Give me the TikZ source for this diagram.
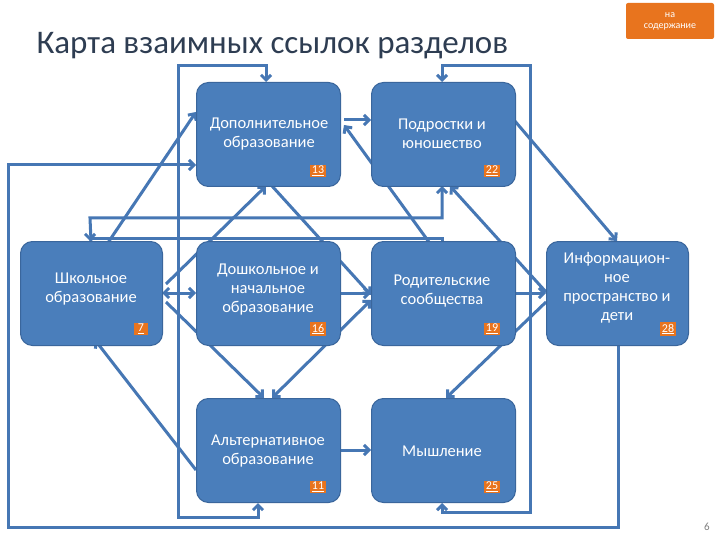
\documentclass[tikz,border=0pt]{standalone}
\usepackage{fontspec}
\setmainfont{Carlito}
\usetikzlibrary{arrows.meta}
\definecolor{boxf}{HTML}{4A7EBB}
\definecolor{boxd}{HTML}{3A669C}
\definecolor{ln}{HTML}{4677B4}
\definecolor{orng}{HTML}{E8741E}
\definecolor{ttl}{HTML}{2E3D52}
\begin{document}
\begin{tikzpicture}[x=1pt,y=-1pt,
  box/.style={draw=boxd,line width=1pt,fill=boxf,rounded corners=12pt,minimum width=144pt,minimum height=104pt,anchor=north west,inner sep=0pt},
  btx/.style={text=white,align=center,font=\fontsize{16.5}{19}\selectfont},
  badge/.style={fill=orng,text=white,font=\fontsize{12}{13}\selectfont,inner sep=1.5pt,minimum width=14pt},
  con/.style={draw=ln,line width=3pt,-{Straight Barb[length=5pt,width=10pt]}},
  con2/.style={con,{Straight Barb[length=5pt,width=10pt]}-{Straight Barb[length=5pt,width=10pt]}}]
\useasboundingbox[fill=white] (0,0) rectangle (720,540);
\node[anchor=west,text=ttl,font=\fontsize{33}{36}\selectfont] (title) at (33,46) {Карта взаимных ссылок разделов};
\node[fill=orng,text=white,rounded corners=2pt,minimum width=88pt,minimum height=36pt,align=center,font=\fontsize{10}{11}\selectfont,inner sep=1pt] (toc) at (670,21) {на\\содержание};
\node[text=gray,font=\fontsize{11}{12}\selectfont] (pg) at (707,527) {6};
% connectors first (behind boxes)
\coordinate (c1) at (178,66); \coordinate (c2) at (178,517);
\coordinate (d1) at (530,66); \coordinate (d2) at (530,512);
\coordinate (e1) at (618,527); \coordinate (e2) at (8,527); \coordinate (e3) at (8,165);
\coordinate (f1) at (90,218); \coordinate (f2) at (442,218);
\coordinate (g1) at (442,238); \coordinate (g2) at (90,238);
\coordinate (h1) at (166,284); \coordinate (h2) at (166,302);
\draw[con2] (266,82) |- (c1) -- (c2) -| (258,503);
\draw[con2] (442,82) |- (d1) -- (d2) -| (442,503);
\draw[con] (618,346) -- (e1) -- (e2) -- (e3) -- (196,165);
\draw[con] (91,241) -- (f1) -- (f2) -- (442,186);
\draw[con] (442,241) -- (g1) -- (g2) -- (90,241);
\draw[con2] (196,112) -- (95,262);
\draw[con2] (162,293) -- (196,293);
\draw[con] (h1) -- (266,186);
\draw[con] (h2) -- (264,398);
\draw[con] (272,186) -- (371,295);
\draw[con] (340,293) -- (371,293);
\draw[con2] (272,398) -- (371,300);
\draw[con] (442,260) -- (344,125);
\draw[con] (344,120) -- (371,120);
\draw[con] (514,120) -- (617,241);
\draw[con] (514,293) -- (546,293);
\draw[con] (546,292) -- (450,186);
\draw[con] (546,302) -- (446,398);
\draw[con] (340,450) -- (371,450);
\draw[con] (196,470) -- (95,340);
% boxes
\node[box] (dop) at (196,82) {};
\node[btx] (doptx) at (269,134) {Дополнительное\\образование};
\node[box] (pod) at (371,82) {};
\node[btx] (podtx) at (442,134) {Подростки и\\юношество};
\node[box,minimum width=142pt] (shk) at (20,241) {};
\node[btx] (shktx) at (91,289) {Школьное\\образование};
\node[box] (dos) at (196,241) {};
\node[btx] (dostx) at (268,290) {Дошкольное и\\начальное\\образование};
\node[box] (rod) at (371,241) {};
\node[btx] (rodtx) at (442,291) {Родительские\\сообщества};
\node[box,minimum width=142pt] (inf) at (546,241) {};
\node[btx] (inftx) at (617,288) {Информацион-\\ное\\пространство и\\дети};
\node[box] (alt) at (196,398) {};
\node[btx] (alttx) at (268,451) {Альтернативное\\образование};
\node[box] (mys) at (371,398) {};
\node[btx] (mystx) at (442,451) {Мышление};
% badges
\node[badge] (b13) at (318,171) {\underline{13}};
\node[badge] (b22) at (492,171) {\underline{22}};
\node[badge] (b7) at (141,329) {\underline{7}};
\node[badge] (b16) at (318,329) {\underline{16}};
\node[badge] (b19) at (492,329) {\underline{19}};
\node[badge] (b28) at (668,329) {\underline{28}};
\node[badge] (b11) at (318,487) {\underline{11}};
\node[badge] (b25) at (492,487) {\underline{25}};
\end{tikzpicture}
\end{document}
